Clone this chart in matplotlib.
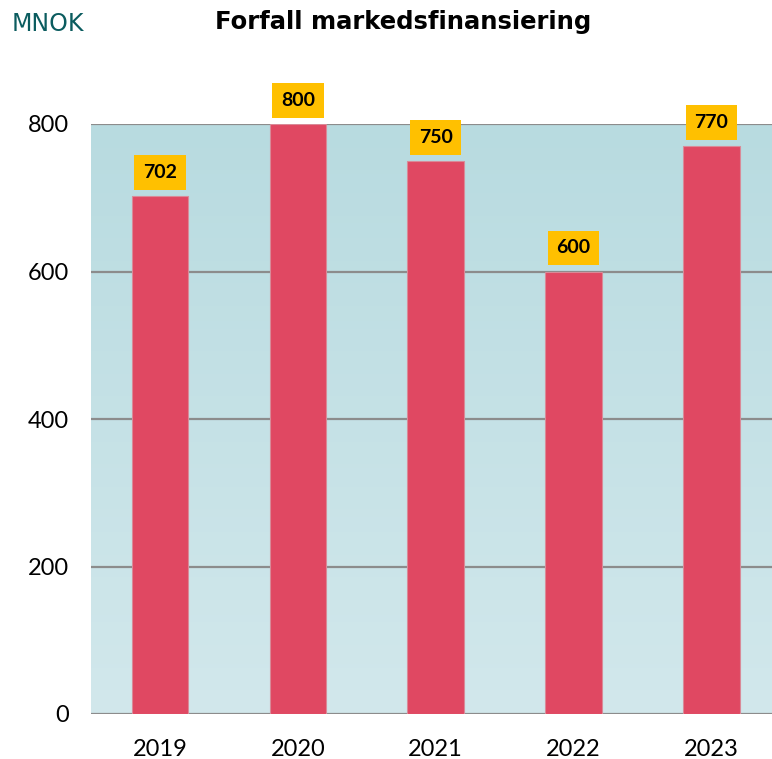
import matplotlib.pyplot as plt
import numpy as np
from matplotlib.colors import LinearSegmentedColormap

years = ['2019', '2020', '2021', '2022', '2023']
values = [702, 800, 750, 600, 770]
yticks = [0, 200, 400, 600, 800]

fig = plt.figure(figsize=(7.72, 7.59), dpi=100)
ax = fig.add_axes([91 / 772, 1 - 714 / 759, (772 - 91) / 772, 590 / 759])

x = np.arange(len(years))
ax.set_xlim(-0.5, 4.44)
ax.set_ylim(0, 800)

# gradient background of the plot area
grad = np.linspace(0, 1, 256).reshape(-1, 1)
cmap = LinearSegmentedColormap.from_list('bg', ['#d2e8ec', '#b8dbe0'])
ax.imshow(grad, cmap=cmap, aspect='auto', origin='lower',
          extent=[-0.5, 4.44, 0, 800], zorder=0)

for t in yticks:
    ax.axhline(t, color='#8c8c8c', linewidth=1.6, zorder=1)

ax.bar(x, values, width=0.41, color='#e04862', edgecolor='#d98a98',
       linewidth=0.8, zorder=2)

for xi, v in zip(x, values):
    ax.annotate(str(v), (xi, v), xytext=(0, 17), textcoords='offset points',
                ha='center', va='center', fontsize=14, fontweight='bold',
                family='Lato', color='black', annotation_clip=False,
                bbox=dict(boxstyle='square,pad=0.45', fc='#ffc000', ec='none'),
                zorder=3)

ax.set_xticks(x)
ax.set_xticklabels(years, fontsize=17, family='Lato')
ax.set_yticks(yticks)
ax.set_yticklabels([str(t) for t in yticks], fontsize=17, family='Lato')
ax.tick_params(length=0)
ax.tick_params(axis='x', pad=18)
ax.tick_params(axis='y', pad=16)
for s in ax.spines.values():
    s.set_visible(False)

fig.text(12 / 772, 1 - 24 / 759, 'MNOK', fontsize=17, color='#0b5c5f',
         ha='left', va='center', family='DejaVu Sans')
fig.text(403 / 772, 1 - 22 / 759, 'Forfall markedsfinansiering', fontsize=17.5,
         fontweight='bold', ha='center', va='center', family='DejaVu Sans')

fig.savefig('out.png', dpi=100)
